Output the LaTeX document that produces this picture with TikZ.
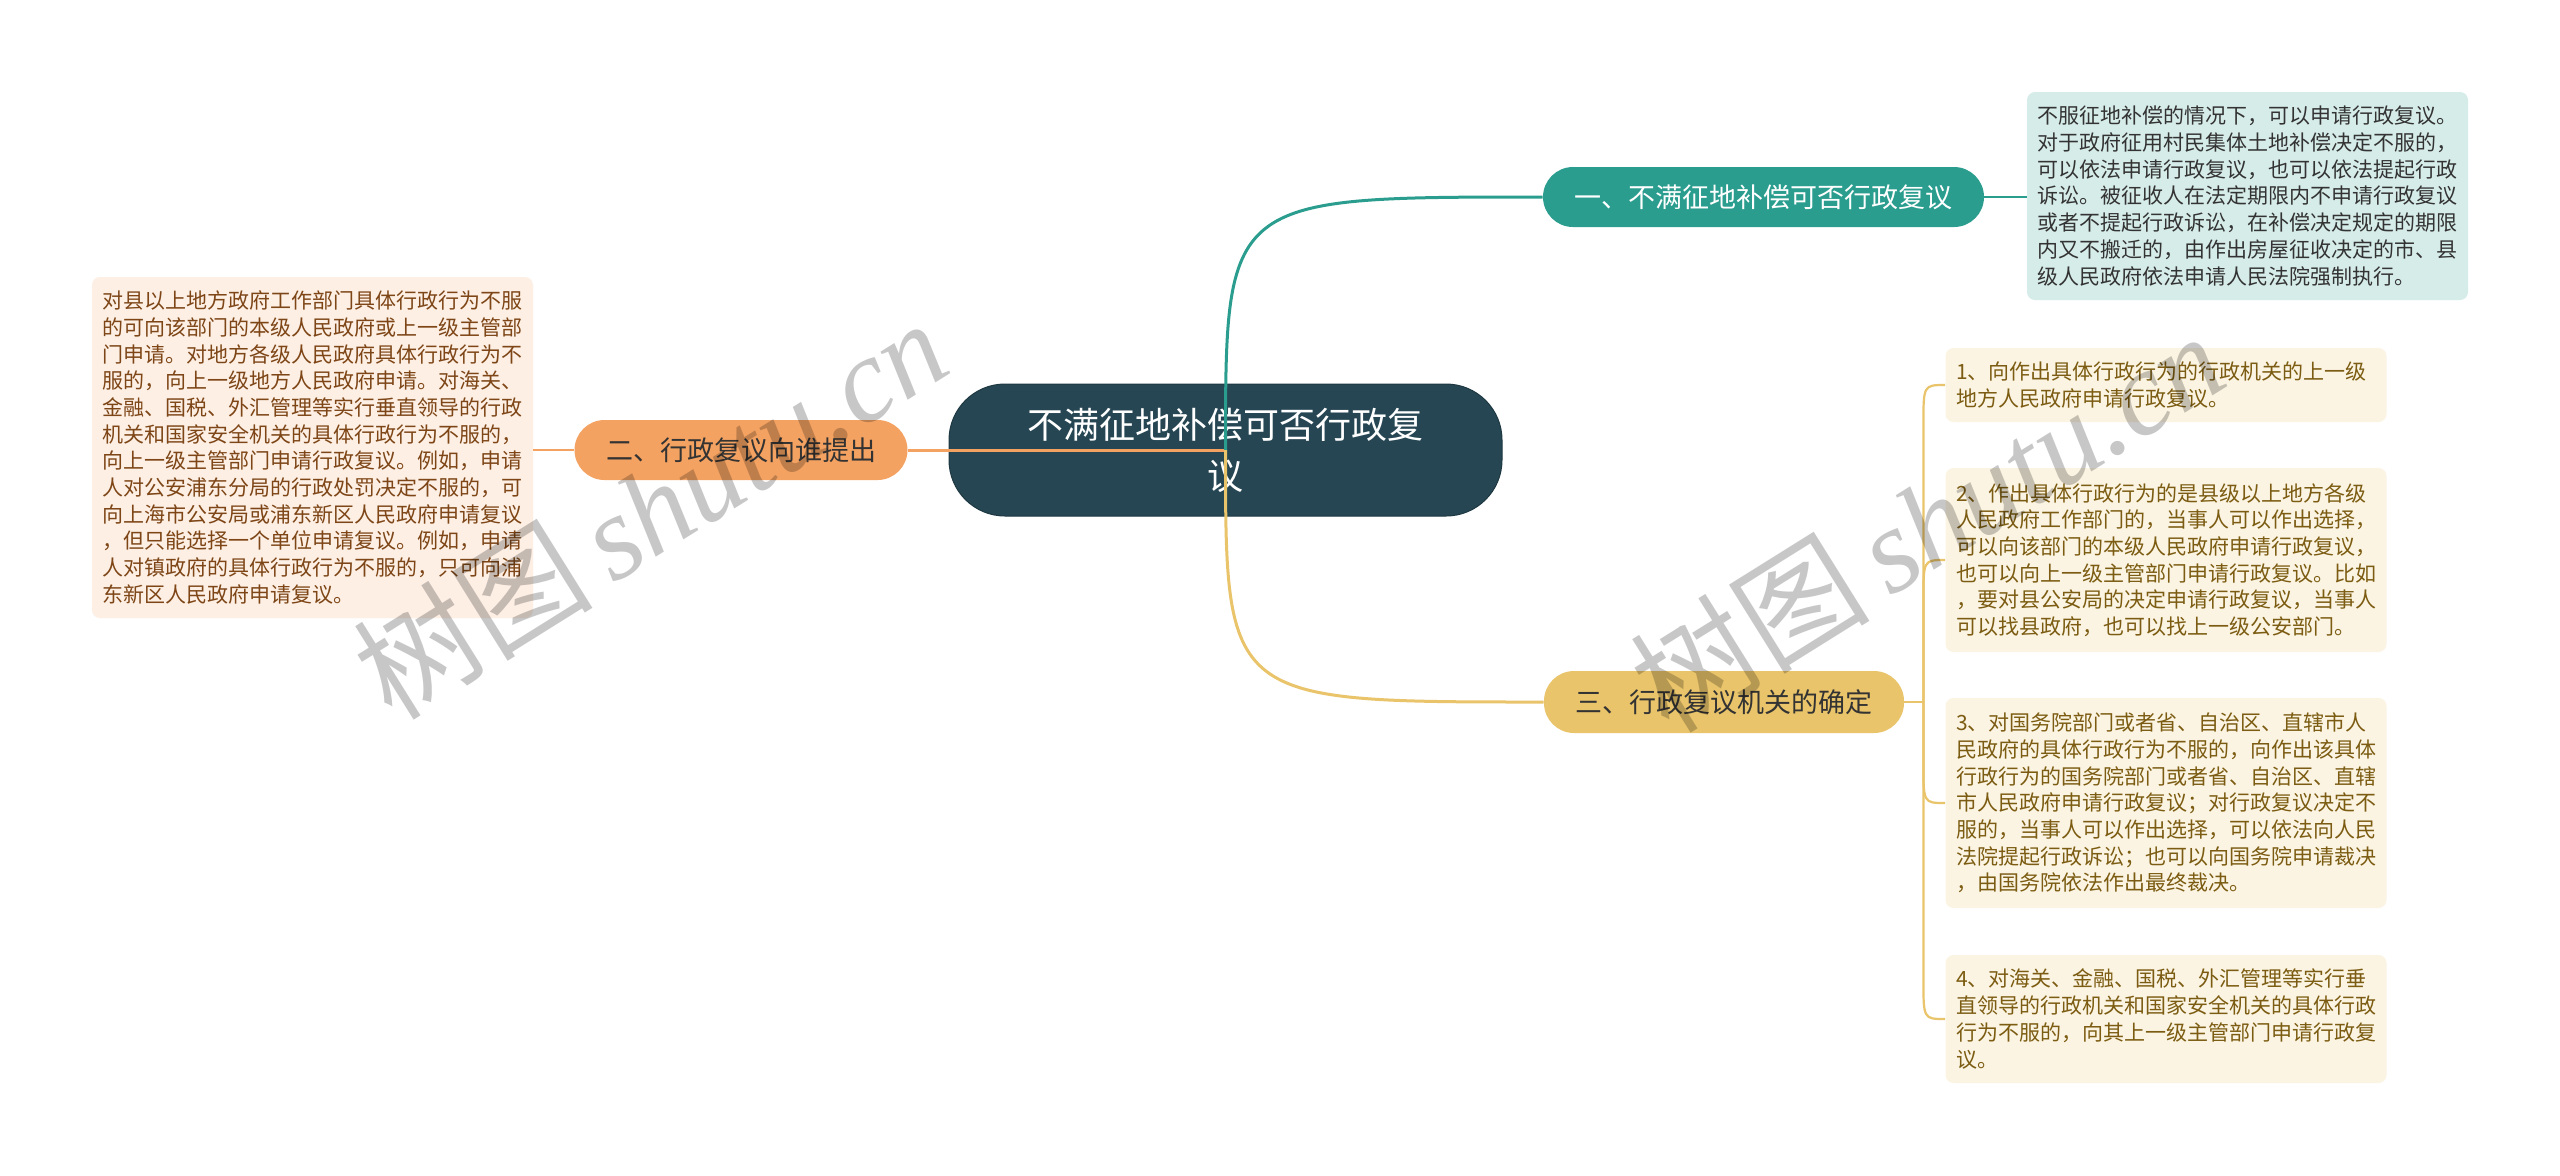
\documentclass[tikz,border=0pt]{standalone}
\usepackage{fontspec}
\setmainfont{Noto Sans CJK SC}
\newfontfamily\wmcjk{Noto Sans CJK SC}
\newfontfamily\wmlat{Liberation Serif}
\usetikzlibrary{calc}
\definecolor{cRoot}{HTML}{264653}
\definecolor{cTeal}{HTML}{2A9D8F}
\definecolor{cOrange}{HTML}{F4A261}
\definecolor{cYellow}{HTML}{E9C46A}
\definecolor{fTeal}{HTML}{D6ECE9}
\definecolor{fOrange}{HTML}{FDEFE4}
\definecolor{fYellow}{HTML}{FBF4E2}
\definecolor{tDark}{HTML}{333333}
\definecolor{tBrown}{HTML}{7E4617}
\definecolor{tOlive}{HTML}{7C5C12}
\tikzset{
  rootbox/.style={fill=cRoot, draw=cRoot!80!black, line width=0.5pt, rounded corners=28pt,
    minimum width=276.5pt, minimum height=66pt, inner sep=0pt, align=center,
    text=white, font=\fontsize{18}{25.5}\selectfont},
  branchbox/.style={rounded corners=15pt, minimum height=30pt, inner sep=0pt,
    font=\fontsize{13.5}{16}\selectfont},
  leafbox/.style={rounded corners=4pt, inner xsep=5.25pt, inner ysep=0pt, text width=210pt,
    align=left, font=\fontsize{10.5}{13.35}\selectfont},
  mainconn/.style={line width=1.5pt},
  leafconn/.style={line width=1.1pt},
  wmark/.style={text=black, text opacity=0.22, rotate=32, inner sep=0pt}
}
\begin{document}
\begin{tikzpicture}[x=0.5pt,y=-0.5pt]
\useasboundingbox (0,0) rectangle (2560,1175);
\fill[white] (0,0) rectangle (2560,1175);

% nodes
\node[rootbox] (root) at (1225.5,450) {不满征地补偿可否行政复\\议};
\node[branchbox, fill=cTeal, text=white, minimum width=220.5pt] (b1) at (1763.5,197) {一、不满征地补偿可否行政复议};
\node[branchbox, fill=cOrange, text=tDark, minimum width=166.5pt] (b2) at (741,450) {二、行政复议向谁提出};
\node[branchbox, fill=cYellow, text=tDark, minimum width=180pt, minimum height=31pt] (b3) at (1724,702) {三、行政复议机关的确定};

\node[leafbox, fill=fTeal, text=tDark, minimum height=104pt] (l1) at (2247.5,196) {不服征地补偿的情况下，可以申请行政复议。\\对于政府征用村民集体土地补偿决定不服的，\\可以依法申请行政复议，也可以依法提起行政\\诉讼。被征收人在法定期限内不申请行政复议\\或者不提起行政诉讼，在补偿决定规定的期限\\内又不搬迁的，由作出房屋征收决定的市、县\\级人民政府依法申请人民法院强制执行。};

\node[leafbox, fill=fOrange, text=tBrown, minimum height=170.5pt] (l2) at (312.5,447.5) {对县以上地方政府工作部门具体行政行为不服\\的可向该部门的本级人民政府或上一级主管部\\门申请。对地方各级人民政府具体行政行为不\\服的，向上一级地方人民政府申请。对海关、\\金融、国税、外汇管理等实行垂直领导的行政\\机关和国家安全机关的具体行政行为不服的，\\向上一级主管部门申请行政复议。例如，申请\\人对公安浦东分局的行政处罚决定不服的，可\\向上海市公安局或浦东新区人民政府申请复议\\，但只能选择一个单位申请复议。例如，申请\\人对镇政府的具体行政行为不服的，只可向浦\\东新区人民政府申请复议。};

\node[leafbox, fill=fYellow, text=tOlive, minimum height=37pt] (l3a) at (2166,385) {1、向作出具体行政行为的行政机关的上一级\\地方人民政府申请行政复议。};
\node[leafbox, fill=fYellow, text=tOlive, minimum height=92pt] (l3b) at (2166,560) {2、作出具体行政行为的是县级以上地方各级\\人民政府工作部门的，当事人可以作出选择，\\可以向该部门的本级人民政府申请行政复议，\\也可以向上一级主管部门申请行政复议。比如\\，要对县公安局的决定申请行政复议，当事人\\可以找县政府，也可以找上一级公安部门。};
\node[leafbox, fill=fYellow, text=tOlive, minimum height=105pt] (l3c) at (2166,803) {3、对国务院部门或者省、自治区、直辖市人\\民政府的具体行政行为不服的，向作出该具体\\行政行为的国务院部门或者省、自治区、直辖\\市人民政府申请行政复议；对行政复议决定不\\服的，当事人可以作出选择，可以依法向人民\\法院提起行政诉讼；也可以向国务院申请裁决\\，由国务院依法作出最终裁决。};
\node[leafbox, fill=fYellow, text=tOlive, minimum height=64pt] (l3d) at (2166,1019) {4、对海关、金融、国税、外汇管理等实行垂\\直领导的行政机关和国家安全机关的具体行政\\行为不服的，向其上一级主管部门申请行政复\\议。};

% main connectors
\draw[mainconn, cOrange] (root.center) -- (b2.east);
\draw[mainconn, cTeal] (root.center) .. controls (root.center |- b1.west) .. (b1.west);
\draw[mainconn, cYellow] (root.center) .. controls (root.center |- b3.west) .. (b3.west);

% leaf connectors
\draw[leafconn, cTeal] (b1.east) -- (b1.east -| l1.west);
\draw[leafconn, cOrange] (b2.west) -- (b2.west -| l2.east);
\coordinate (j3) at ([xshift=9.5pt]b3.east);
\draw[leafconn, cYellow] (b3.east) -- (j3);
\draw[leafconn, cYellow] (j3) -- ([yshift=-20pt]j3 |- l3a.west) .. controls (j3 |- l3a.west) .. (l3a.west);
\draw[leafconn, cYellow] (j3) -- ([yshift=-20pt]j3 |- l3b.west) .. controls (j3 |- l3b.west) .. (l3b.west);
\draw[leafconn, cYellow] (j3) -- ([yshift=20pt]j3 |- l3c.west) .. controls (j3 |- l3c.west) .. (l3c.west);
\draw[leafconn, cYellow] (j3) -- ([yshift=20pt]j3 |- l3d.west) .. controls (j3 |- l3d.west) .. (l3d.west);

% watermarks
\node[wmark] (wm1) at (650,508) {\fontsize{60}{64}\selectfont\wmcjk 树图\,\wmlat\itshape shutu.cn};
\node[wmark] (wm2) at (1927,521) {\fontsize{60}{64}\selectfont\wmcjk 树图\,\wmlat\itshape shutu.cn};
\end{tikzpicture}
\end{document}
